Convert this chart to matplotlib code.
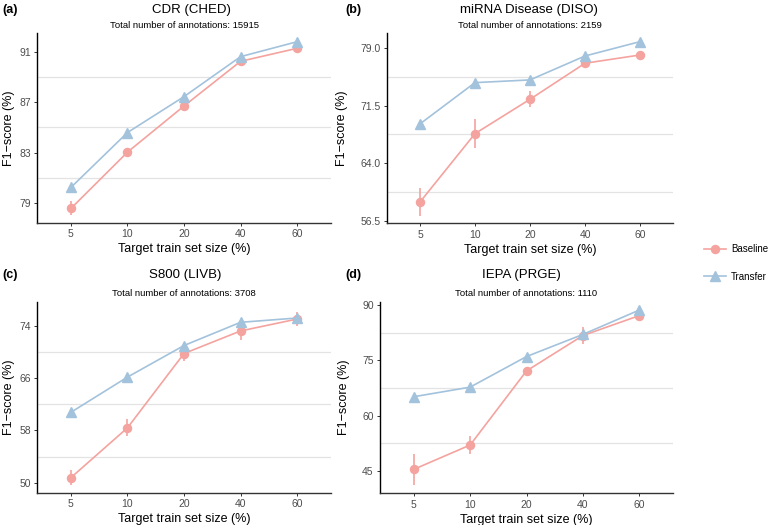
import matplotlib
matplotlib.use("Agg")
import matplotlib.pyplot as plt
from matplotlib.lines import Line2D

plt.rcParams['font.family'] = ['Liberation Sans', 'DejaVu Sans']

train_sizes = ["5", "10", "20", "40", "60"]

titles = ["CDR (CHED)", "miRNA Disease (DISO)", "S800 (LIVB)", "IEPA (PRGE)"]
subtitles = ["Total number of annotations: 15915", "Total number of annotations: 2159",
             "Total number of annotations: 3708", "Total number of annotations: 1110"]
panel_labels = ["(a)", "(b)", "(c)", "(d)"]

baseline_a = [78.6, 83.05, 86.7, 90.23, 91.26]
baseline_a_err = [0.55, 0.2, 0.2, 0.2, 0.2]
transfer_a = [80.26, 84.6, 87.44, 90.6, 91.78]

baseline_b = [59.0, 67.86, 72.31, 76.98, 78.05]
baseline_b_err = [1.8, 1.9, 1.05, 0.3, 0.3]
transfer_b = [69.12, 74.47, 74.82, 77.92, 79.78]

baseline_c = [50.8, 58.4, 69.74, 73.18, 75.0]
baseline_c_err = [1.1, 1.3, 1.2, 1.45, 1.0]
transfer_c = [60.77, 66.14, 70.96, 74.5, 75.16]

baseline_d = [45.4, 52.0, 72.1, 81.7, 87.1]
baseline_d_err = [4.2, 2.5, 0.8, 2.3, 0.6]
transfer_d = [65.1, 67.7, 76.0, 82.0, 88.6]

yticks_a = [79, 83, 87, 91]
yticks_b = [56.5, 64.0, 71.5, 79.0]
yticks_c = [50, 58, 66, 74]
yticks_d = [45, 60, 75, 90]

ylims = [(77.45, 92.47), (56.24, 80.9), (48.5, 77.6), (38.9, 90.8)]

baselines = [baseline_a, baseline_b, baseline_c, baseline_d]
baseline_errs = [baseline_a_err, baseline_b_err, baseline_c_err, baseline_d_err]
transfers = [transfer_a, transfer_b, transfer_c, transfer_d]
yticks_all = [yticks_a, yticks_b, yticks_c, yticks_d]
ytick_fmt = ["{:.0f}", "{:.1f}", "{:.0f}", "{:.0f}"]

C_BASE = "#F4A39F"
C_TRANS = "#A3C2DC"

W, H = 770, 525
fig = plt.figure(figsize=(W / 100, H / 100), dpi=100)

# pixel boxes: left, top, right, bottom
boxes = [(37, 33, 331, 223), (387, 33, 673, 223.3), (37, 302, 331, 492.7), (380, 302, 673, 493.3)]
label_pos = [(2, 10), (345, 10), (2, 275), (345, 275)]
title_x = [191, 529, 185, 521]
title_y = [10, 10, 275, 275]
subtitle_y = [25, 25, 293, 293]
ylabel_x = [15, 348, 15, 350]

x = list(range(len(train_sizes)))

for i in range(4):
    l, t, r, b = boxes[i]
    ax = fig.add_axes([l / W, 1 - b / H, (r - l) / W, (b - t) / H])
    yt = yticks_all[i]
    step = yt[1] - yt[0]
    for k in range(len(yt) - 1):
        ax.axhline(yt[k] + step / 2, color="#E3E3E3", lw=0.9, zorder=0)
    ax.errorbar(x, baselines[i], yerr=baseline_errs[i], color=C_BASE, lw=1.2,
                marker="o", ms=5.8, elinewidth=1.2, capsize=0, zorder=3)
    ax.plot(x, transfers[i], color=C_TRANS, lw=1.2, marker="^", ms=6.8, zorder=4)
    ax.set_xlim(-0.6, len(train_sizes) - 0.4)
    ax.set_ylim(*ylims[i])
    ax.set_xticks(x)
    ax.set_xticklabels(train_sizes)
    ax.set_yticks(yt)
    ax.set_yticklabels([ytick_fmt[i].format(v) for v in yt])
    for s in ["top", "right"]:
        ax.spines[s].set_visible(False)
    ax.spines["left"].set_color("black")
    ax.spines["bottom"].set_color("#333333")
    ax.spines["left"].set_linewidth(1.0)
    ax.spines["bottom"].set_linewidth(1.0)
    ax.tick_params(axis="both", length=2.5, width=0.7, color="#333333",
                   labelsize=7.5, labelcolor="#4D4D4D", pad=2)
    ax.set_xlabel("Target train set size (%)", fontsize=9, labelpad=3)
    ax.set_ylabel("F1\u2212score (%)", fontsize=9)
    ax.yaxis.set_label_coords((ylabel_x[i] - l) / (r - l), 0.5)
    cx = (l + r) / 2
    fig.text(title_x[i] / W, 1 - title_y[i] / H, titles[i], ha="center", va="center", fontsize=9.5)
    fig.text(cx / W, 1 - subtitle_y[i] / H, subtitles[i], ha="center", va="center", fontsize=6.8)
    px, py = label_pos[i]
    fig.text(px / W, 1 - py / H, panel_labels[i], ha="left", va="center",
             fontsize=9, fontweight="bold")

handles = [Line2D([], [], color=C_BASE, marker="o", ms=5.8, lw=1.2),
           Line2D([], [], color=C_TRANS, marker="^", ms=6.8, lw=1.2)]
fig.legend(handles, ["Baseline", "Transfer"], loc="center left",
           bbox_to_anchor=(700 / W, 1 - 263 / H), frameon=False, fontsize=7,
           handlelength=2.3, labelspacing=1.8, handletextpad=0.5, borderaxespad=0)

fig.savefig("out.png", dpi=100)
